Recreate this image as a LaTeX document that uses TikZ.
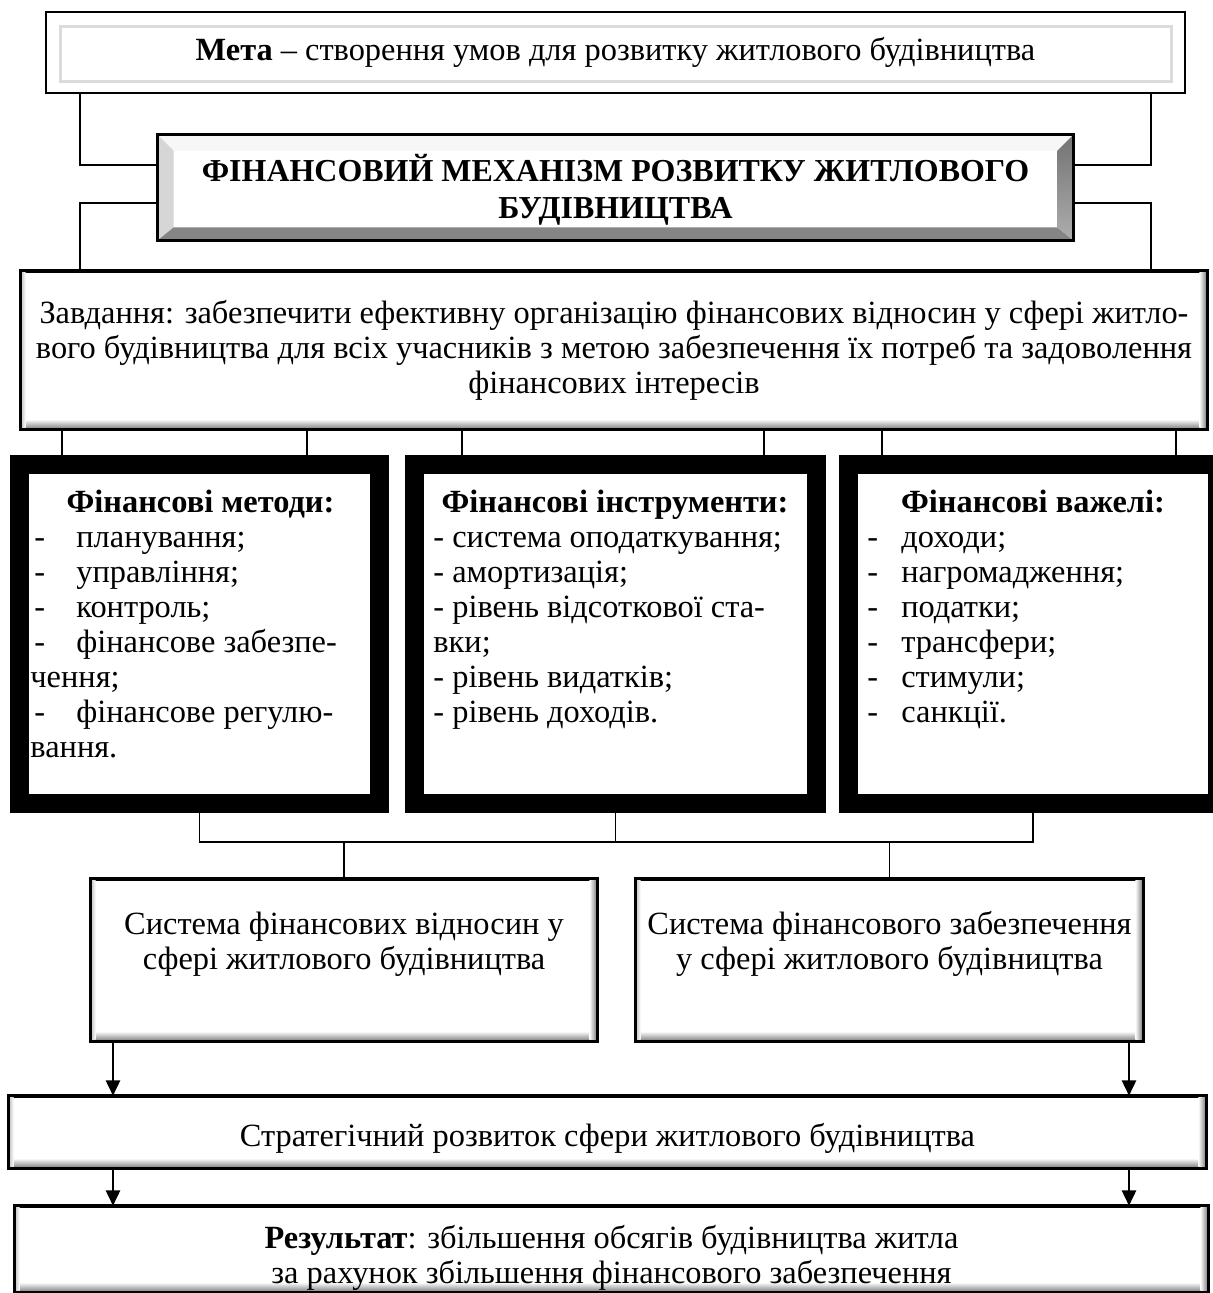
\documentclass[tikz,border=0pt]{standalone}
\usepackage{fontspec}
\setmainfont{Liberation Serif}
\usetikzlibrary{arrows.meta,calc}

% soft embossed edge on a plain box: grey fade along bottom and right, light fade on the left
\newcommand\embossfx[1]{%
  \shade[top color=white,bottom color=black!45] ($(#1.south west)+(1.5,-10)$) rectangle ($(#1.south east)+(-1.5,-1.5)$);
  \shade[left color=white,right color=black!45] ($(#1.north east)+(-8,1.5)$) rectangle ($(#1.south east)+(-1.5,-1.5)$);
  \shade[left color=black!18,right color=white] ($(#1.north west)+(1.5,1.5)$) rectangle ($(#1.south west)+(5,-1.5)$);
  \draw[boxline] (#1.north west) rectangle (#1.south east);
}

\begin{document}
\begin{tikzpicture}[x=0.46pt,y=-0.46pt,
  every node/.style={font=\fontsize{14.9}{16.1}\selectfont, inner sep=0pt},
  boxsize/.style 2 args={minimum width=#1*0.46pt, minimum height=#2*0.46pt},
  boxline/.style={line width=1.2pt},
  conn/.style={line width=0.9pt},
  arr/.style={conn,-{Triangle[length=7pt,width=6.5pt]}},
  plainbox/.style={draw, boxline, fill=white, align=center},
  thickbox/.style={draw, line width=8.74pt, fill=white},
  head/.style={font=\fontsize{14.9}{16.1}\selectfont\bfseries, anchor=base},
  item/.style={anchor=base west},
]
\useasboundingbox (0,0) rectangle (1213,1293);
\clip (0,0) rectangle (1213,1293);
\fill[white] (0,0) rectangle (1213,1293);

% ---- goal ----
\node[plainbox, boxsize={1139}{81}] (meta) at (615.5,52.5)
  {\textbf{Мета} – створення умов для розвитку житлового будівництва};
\draw[black!14, line width=1.2pt] ($(meta.north west)+(16,16)$) rectangle ($(meta.south east)+(-15,-13)$);

% ---- bevelled title block ----
\node[boxsize={915}{105}] (mech) at (615.5,187.5) {};
\fill[black!3]  (mech.north west) -- (mech.north east) -- ($(mech.north east)+(-16,16)$) -- ($(mech.north west)+(16,16)$) -- cycle;
\fill[black!16] (mech.north west) -- (mech.south west) -- ($(mech.south west)+(16,-13)$) -- ($(mech.north west)+(16,16)$) -- cycle;
\fill[black!48] (mech.south west) -- (mech.south east) -- ($(mech.south east)+(-16,-13)$) -- ($(mech.south west)+(16,-13)$) -- cycle;
\shade[top color=black!55, bottom color=black!32] (mech.north east) -- (mech.south east) -- ($(mech.south east)+(-16,-13)$) -- ($(mech.north east)+(-16,16)$) -- cycle;
\draw[boxline] (mech.north west) rectangle (mech.south east);
\node[align=center, font=\fontsize{14.7}{17}\selectfont\bfseries] (mechtext) at (615.5,190)
  {ФІНАНСОВИЙ МЕХАНІЗМ РОЗВИТКУ ЖИТЛОВОГО\\БУДІВНИЦТВА};

% ---- task ----
\node[plainbox, boxsize={1184}{156}] (task) at (614,350)
  {Завдання: забезпечити ефективну організацію фінансових відносин у сфері житло-\\
   вого будівництва для всіх учасників з метою забезпечення їх потреб та задоволення\\
   фінансових інтересів};
\embossfx{task}

% ---- links between the upper blocks ----
\coordinate (lx) at (80,0);
\coordinate (rx) at (1151,0);
\draw[conn] (meta.south -| lx) |- (mech.west |- 0,165);
\draw[conn] (meta.south -| rx) |- (mech.east |- 0,165);
\draw[conn] (mech.west |- 0,203) -| (task.north -| lx);
\draw[conn] (mech.east |- 0,203) -| (task.north -| rx);

% ---- three heavy-framed blocks ----
\node[thickbox, boxsize={360}{339}] (meth)  at (199.5,634) {};
\node[thickbox, boxsize={402}{339}] (instr) at (615.5,634) {};
\node[thickbox, boxsize={369}{339}] (lev)   at (1033,634)  {};

\foreach \xx/\bx in {62/meth,307/meth,462/instr,764/instr,882/lev,1176/lev}
  \draw[conn] (task.south -| \xx,0) -- (\bx.north -| \xx,0);

\node[head] (methT)  at (200.5,512) {Фінансові методи:};
\node[item] (m1) at (34,547) {\makebox[19.3pt][l]{-}планування;};
\node[item] (m2) at (34,582) {\makebox[19.3pt][l]{-}управління;};
\node[item] (m3) at (34,617) {\makebox[19.3pt][l]{-}контроль;};
\node[item] (m4) at (34,652) {\makebox[19.3pt][l]{-}фінансове забезпе-};
\node[item] (m5) at (30,687) {чення;};
\node[item] (m6) at (34,722) {\makebox[19.3pt][l]{-}фінансове регулю-};
\node[item] (m7) at (30,757) {вання.};

\node[head] (instrT) at (615,512) {Фінансові інструменти:};
\node[item] (i1) at (433,547) {- система оподаткування;};
\node[item] (i2) at (433,582) {- амортизація;};
\node[item] (i3) at (433,617) {- рівень відсоткової ста-};
\node[item] (i4) at (433,652) {вки;};
\node[item] (i5) at (433,687) {- рівень видатків;};
\node[item] (i6) at (433,722) {- рівень доходів.};

\node[head] (levT)   at (1033,512) {Фінансові важелі:};
\node[item] (l1) at (867,547) {\makebox[15.6pt][l]{-}доходи;};
\node[item] (l2) at (867,582) {\makebox[15.6pt][l]{-}нагромадження;};
\node[item] (l3) at (867,617) {\makebox[15.6pt][l]{-}податки;};
\node[item] (l4) at (867,652) {\makebox[15.6pt][l]{-}трансфери;};
\node[item] (l5) at (867,687) {\makebox[15.6pt][l]{-}стимули;};
\node[item] (l6) at (867,722) {\makebox[15.6pt][l]{-}санкції.};

% ---- two systems ----
\node[plainbox, boxsize={504}{160}] (sysA) at (344,960) {};
\embossfx{sysA}
\node[align=center] (sysAtext) at (344,944)
  {Система фінансових відносин у\\сфері житлового будівництва};
\node[plainbox, boxsize={505}{160}] (sysB) at (889.5,960) {};
\embossfx{sysB}
\node[align=center] (sysBtext) at (889.5,944)
  {Система фінансового забезпечення\\у сфері житлового будівництва};

\coordinate (bus) at (0,842);
\draw[conn] (meth.south) |- (bus -| lev.south) -- (lev.south);
\draw[conn] (instr.south) -- (instr.south |- bus);
\draw[conn] (sysA.north) -- (sysA.north |- bus);
\draw[conn] (sysB.north) -- (sysB.north |- bus);

% ---- strategy and result ----
\node[plainbox, boxsize={1195}{70}] (strat) at (607.5,1132) {};
\embossfx{strat}
\node (strattext) at (607.5,1138) {Стратегічний розвиток сфери житлового будівництва};
\node[plainbox, boxsize={1191}{84}] (result) at (611.5,1249) {};
\embossfx{result}
\node[align=center] (resulttext) at (611.5,1258)
  {\textbf{Результат}: збільшення обсягів будівництва житла\\за рахунок збільшення фінансового забезпечення};

\coordinate (al) at (113,0);
\coordinate (ar) at (1129,0);
\draw[arr] (sysA.south -| al) -- (strat.north -| al);
\draw[arr] (sysB.south -| ar) -- (strat.north -| ar);
\draw[arr] (strat.south -| al) -- (result.north -| al);
\draw[arr] (strat.south -| ar) -- (result.north -| ar);
\end{tikzpicture}
\end{document}
